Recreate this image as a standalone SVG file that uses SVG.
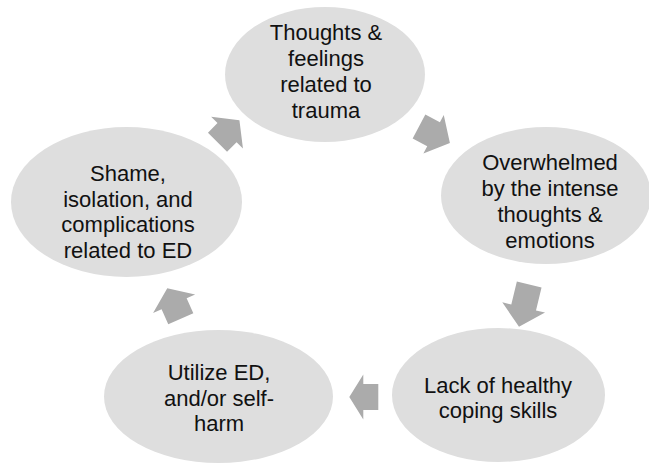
<svg xmlns="http://www.w3.org/2000/svg" width="649" height="464" viewBox="0 0 649 464">
  <style>
    .node ellipse { fill: #dedede; }
    .node text { font-family: "Liberation Sans", Arial, sans-serif; font-size: 22px; fill: #111111; text-anchor: middle; }
    .arrow { fill: #ababab; }
  </style>
  <rect width="649" height="464" fill="#ffffff"/>

  <!-- cycle arrows between the steps -->
  <g id="connectors">
    <polygon class="arrow" transform="translate(419,126.5) rotate(28)" points="0,-13.5 16.5,-13.5 16.5,-21.7 35,0 16.5,21.7 16.5,13.5 0,13.5"/>
    <polygon class="arrow" transform="translate(529.2,284.5) rotate(103.6)" points="0,-12.7 23.6,-12.7 23.6,-22 43.4,0 23.6,22 23.6,12.7 0,12.7"/>
    <polygon class="arrow" transform="translate(378.3,397) rotate(180)" points="0,-13 15,-13 15,-22.5 29,0 15,22.5 15,13 0,13"/>
    <polygon class="arrow" transform="translate(180.8,318.8) rotate(-113.9)" points="0,-13.7 16.5,-13.7 16.5,-23 33.4,0 16.5,23 16.5,13.7 0,13.7"/>
    <polygon class="arrow" transform="translate(217.5,142.2) rotate(-45)" points="0,-13.5 13.5,-13.5 13.5,-22.5 31,0 13.5,22.5 13.5,13.5 0,13.5"/>
  </g>

  <g id="node-trauma" class="node">
    <ellipse cx="325" cy="74.5" rx="100" ry="67.5"/>
    <text x="326" y="40">Thoughts &amp;</text>
    <text x="326" y="66">feelings</text>
    <text x="326" y="92">related to</text>
    <text x="326" y="118">trauma</text>
  </g>

  <g id="node-overwhelmed" class="node">
    <ellipse cx="546" cy="195.5" rx="105" ry="68.5"/>
    <text x="550" y="170">Overwhelmed</text>
    <text x="550" y="196">by the intense</text>
    <text x="550" y="222">thoughts &amp;</text>
    <text x="550" y="248">emotions</text>
  </g>

  <g id="node-coping" class="node">
    <ellipse cx="498.5" cy="395" rx="106.5" ry="67"/>
    <text x="498" y="393">Lack of healthy</text>
    <text x="498" y="418">coping skills</text>
  </g>

  <g id="node-utilize" class="node">
    <ellipse cx="218.5" cy="396.5" rx="114.5" ry="66.5"/>
    <text x="219" y="380">Utilize ED,</text>
    <text x="219" y="406">and/or self-</text>
    <text x="219" y="431">harm</text>
  </g>

  <g id="node-shame" class="node">
    <ellipse cx="126.5" cy="202" rx="115.5" ry="75"/>
    <text x="128" y="181">Shame,</text>
    <text x="128" y="207">isolation, and</text>
    <text x="128" y="232">complications</text>
    <text x="128" y="258">related to ED</text>
  </g>
</svg>
